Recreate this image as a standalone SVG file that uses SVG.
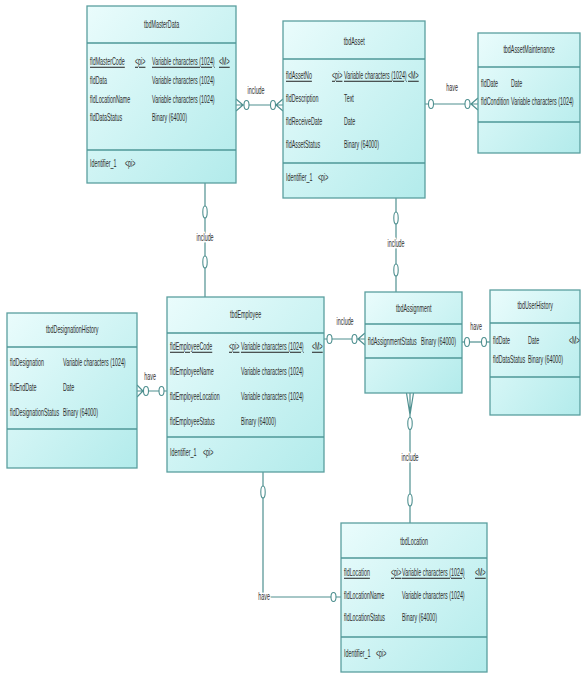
<svg xmlns="http://www.w3.org/2000/svg" width="581" height="675" viewBox="0 0 581 675">
<defs>
<linearGradient id="fillg" x1="0" y1="0" x2="1" y2="1">
<stop offset="0" stop-color="#eafcfc"/>
<stop offset="1" stop-color="#b2ebeb"/>
</linearGradient>
</defs>
<style>
.box{fill:url(#fillg);stroke:#5a9f9f;stroke-width:1.3}
.div{fill:none;stroke:#4f9898;stroke-width:1.5}
.t{font-family:"Liberation Sans",Arial,sans-serif;font-size:10.5px;fill:#2b2b2b;transform-box:fill-box;transform-origin:0 50%;transform:scaleX(.51)}
.c{text-anchor:middle;transform-origin:50% 50%}
.u{text-decoration:underline}
.ln{fill:none;stroke:#4f9090;stroke-width:1.2}
.o{fill:#fff;stroke:#4f9090;stroke-width:1.1}
.lbl{paint-order:stroke;stroke:#fff;stroke-width:3px;stroke-linejoin:round}
</style>
<rect x="0" y="0" width="581" height="675" fill="#fff"/>

<g id="connectors">
<path class="ln" d="M236 105H283M236 99L243 105L236 111M283 99L276 105L283 111"/>
<ellipse class="o" cx="246.5" cy="105" rx="2.5" ry="4.5"/>
<ellipse class="o" cx="273" cy="105" rx="2.5" ry="4.5"/>
<text class="t c lbl" x="256" y="94">include</text>

<path class="ln" d="M425 104H478M478 98L471 104L478 110"/>
<ellipse class="o" cx="431" cy="104" rx="2.5" ry="4.5"/>
<ellipse class="o" cx="467.5" cy="104" rx="2.5" ry="4.5"/>
<text class="t c lbl" x="452" y="91">have</text>

<path class="ln" d="M205 183V297"/>
<ellipse class="o" cx="205" cy="212" rx="2.2" ry="6"/>
<ellipse class="o" cx="205" cy="262" rx="2.2" ry="6"/>
<text class="t c lbl" x="205" y="241.5">include</text>

<path class="ln" d="M396 198V292"/>
<ellipse class="o" cx="396" cy="218" rx="2.2" ry="6"/>
<ellipse class="o" cx="396" cy="270" rx="2.2" ry="6"/>
<text class="t c lbl" x="396" y="247">include</text>

<path class="ln" d="M324 339H365M365 333L358 339L365 345"/>
<ellipse class="o" cx="329.5" cy="339" rx="2.5" ry="4.5"/>
<ellipse class="o" cx="354.5" cy="339" rx="2.5" ry="4.5"/>
<text class="t c lbl" x="345" y="325.5">include</text>

<path class="ln" d="M462 342H490"/>
<ellipse class="o" cx="467" cy="342" rx="2.5" ry="4.5"/>
<ellipse class="o" cx="484" cy="342" rx="2.5" ry="4.5"/>
<text class="t c lbl" x="476" y="330">have</text>

<path class="ln" d="M410 393V523M406.5 393L410 415L413.5 393"/>
<ellipse class="o" cx="410" cy="423.5" rx="2.2" ry="6"/>
<ellipse class="o" cx="410" cy="500" rx="2.2" ry="6"/>
<text class="t c lbl" x="410" y="461.5">include</text>

<path class="ln" d="M137 391H167M137 385L143 391L137 397"/>
<ellipse class="o" cx="146" cy="391" rx="2.5" ry="4.5"/>
<ellipse class="o" cx="161.5" cy="391" rx="2.5" ry="4.5"/>
<text class="t c lbl" x="150" y="380.5">have</text>

<path class="ln" d="M263 472V597H341"/>
<ellipse class="o" cx="263" cy="492" rx="2.2" ry="6"/>
<ellipse class="o" cx="333.5" cy="597" rx="2.5" ry="4.5"/>
<text class="t c lbl" x="264" y="600.5">have</text>
</g>

<g id="tbdMasterData">
<rect class="box" x="87" y="6" width="149" height="177"/>
<path class="div" d="M87 43H236M87 150H236"/>
<text class="t c" x="161.5" y="28.5">tbdMasterData</text>
<text class="t u" x="90" y="65.5">fldMasterCode</text>
<text class="t u" x="135" y="65.5">&lt;pi&gt;</text>
<text class="t u" x="152" y="65.5">Variable characters (1024)</text>
<text class="t u" x="219" y="65.5">&lt;M&gt;</text>
<text class="t" x="90" y="84.5">fldData</text>
<text class="t" x="152" y="84.5">Variable characters (1024)</text>
<text class="t" x="90" y="103">fldLocationName</text>
<text class="t" x="152" y="103">Variable characters (1024)</text>
<text class="t" x="90" y="121.5">fldDataStatus</text>
<text class="t" x="152" y="121.5">Binary (64000)</text>
<text class="t" x="90" y="167.5">Identifier_1</text>
<text class="t" x="125" y="167.5">&lt;pi&gt;</text>
</g>

<g id="tbdAsset">
<rect class="box" x="283" y="21" width="142" height="177"/>
<path class="div" d="M283 59H425M283 163H425"/>
<text class="t c" x="354" y="45">tbdAsset</text>
<text class="t u" x="286" y="79.5">fldAssetNo</text>
<text class="t u" x="332" y="79.5">&lt;pi&gt;</text>
<text class="t u" x="344" y="79.5">Variable characters (1024)</text>
<text class="t u" x="408" y="79.5">&lt;M&gt;</text>
<text class="t" x="286" y="102.5">fldDescription</text>
<text class="t" x="344" y="102.5">Text</text>
<text class="t" x="286" y="125.5">fldReceiveDate</text>
<text class="t" x="344" y="125.5">Date</text>
<text class="t" x="286" y="148.5">fldAssetStatus</text>
<text class="t" x="344" y="148.5">Binary (64000)</text>
<text class="t" x="286" y="181.5">Identifier_1</text>
<text class="t" x="318" y="181.5">&lt;pi&gt;</text>
</g>

<g id="tbdAssetMaintenance">
<rect class="box" x="478" y="33" width="102" height="120"/>
<path class="div" d="M478 67H580M478 122H580"/>
<text class="t c" x="529" y="53.5">tbdAssetMaintenance</text>
<text class="t" x="481" y="87.5">fldDate</text>
<text class="t" x="511" y="87.5">Date</text>
<text class="t" x="481" y="105.5">fldCondition</text>
<text class="t" x="511" y="105.5">Variable characters (1024)</text>
</g>

<g id="tbdEmployee">
<rect class="box" x="167" y="297" width="157" height="175"/>
<path class="div" d="M167 333H324M167 437H324"/>
<text class="t c" x="245.5" y="318.5">tbdEmployee</text>
<text class="t u" x="170" y="350.5">fldEmployeeCode</text>
<text class="t u" x="229" y="350.5">&lt;pi&gt;</text>
<text class="t u" x="241" y="350.5">Variable characters (1024)</text>
<text class="t u" x="312" y="350.5">&lt;M&gt;</text>
<text class="t" x="170" y="375.5">fldEmployeeName</text>
<text class="t" x="241" y="375.5">Variable characters (1024)</text>
<text class="t" x="170" y="400.5">fldEmployeeLocation</text>
<text class="t" x="241" y="400.5">Variable characters (1024)</text>
<text class="t" x="170" y="425.5">fldEmployeeStatus</text>
<text class="t" x="241" y="425.5">Binary (64000)</text>
<text class="t" x="170" y="456.5">Identifier_1</text>
<text class="t" x="203" y="456.5">&lt;pi&gt;</text>
</g>

<g id="tbdAssignment">
<rect class="box" x="365" y="292" width="97" height="101"/>
<path class="div" d="M365 324H462M365 358H462"/>
<text class="t c" x="413.5" y="312.5">tbdAssignment</text>
<text class="t" x="368" y="345.5">fldAssignmentStatus</text>
<text class="t" x="421" y="345.5">Binary (64000)</text>
</g>

<g id="tbdUserHistory">
<rect class="box" x="490" y="290" width="90" height="125"/>
<path class="div" d="M490 323H580M490 377H580"/>
<text class="t c" x="535" y="309.5">tbdUserHistory</text>
<text class="t" x="493" y="344.5">fldDate</text>
<text class="t" x="528" y="344.5">Date</text>
<text class="t" x="569" y="344.5">&lt;M&gt;</text>
<text class="t" x="493" y="363.5">fldDataStatus</text>
<text class="t" x="528" y="363.5">Binary (64000)</text>
</g>

<g id="tbdDesignationHistory">
<rect class="box" x="7" y="313" width="130" height="155"/>
<path class="div" d="M7 347H137M7 429H137"/>
<text class="t c" x="72" y="333.5">tbdDesignationHistory</text>
<text class="t" x="10" y="366.5">fldDesignation</text>
<text class="t" x="63" y="366.5">Variable characters (1024)</text>
<text class="t" x="10" y="391.5">fldEndDate</text>
<text class="t" x="63" y="391.5">Date</text>
<text class="t" x="10" y="416.5">fldDesignationStatus</text>
<text class="t" x="63" y="416.5">Binary (64000)</text>
</g>

<g id="tbdLocation">
<rect class="box" x="341" y="523" width="146" height="149"/>
<path class="div" d="M341 558H487M341 637H487"/>
<text class="t c" x="414" y="545.5">tbdLocation</text>
<text class="t u" x="344" y="576.5">fldLocation</text>
<text class="t u" x="391" y="576.5">&lt;pi&gt;</text>
<text class="t u" x="402" y="576.5">Variable characters (1024)</text>
<text class="t u" x="475" y="576.5">&lt;M&gt;</text>
<text class="t" x="344" y="599.5">fldLocationName</text>
<text class="t" x="402" y="599.5">Variable characters (1024)</text>
<text class="t" x="344" y="621.5">fldLocationStatus</text>
<text class="t" x="402" y="621.5">Binary (64000)</text>
<text class="t" x="344" y="657.5">Identifier_1</text>
<text class="t" x="376" y="657.5">&lt;pi&gt;</text>
</g>
</svg>
